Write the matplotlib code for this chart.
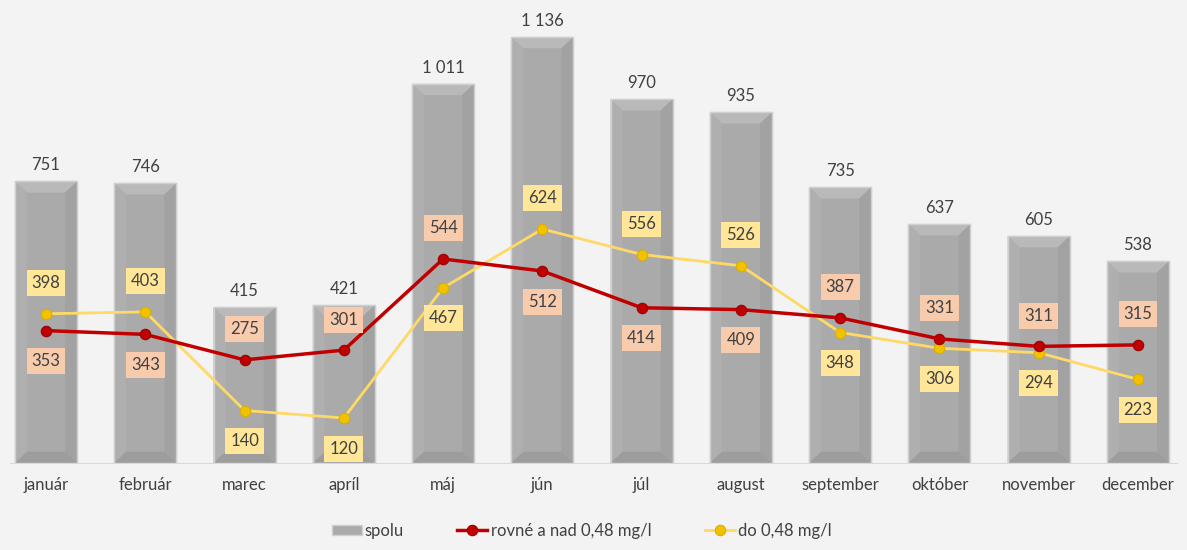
import matplotlib.pyplot as plt
from matplotlib.patches import Polygon
import numpy as np

plt.rcParams['font.family'] = ['Lato', 'DejaVu Sans']

# data
months = ['január', 'február', 'marec', 'apríl', 'máj', 'jún', 'júl',
          'august', 'september', 'október', 'november', 'december']
spolu = [751, 746, 415, 421, 1011, 1136, 970, 935, 735, 637, 605, 538]
nad = [353, 343, 275, 301, 544, 512, 414, 409, 387, 331, 311, 315]
do = [398, 403, 140, 120, 467, 624, 556, 526, 348, 306, 294, 223]

# label placement (+1 above, -1 below)
nad_pos = [-1, -1, 1, 1, 1, -1, -1, -1, 1, 1, 1, 1]
do_pos = [1, 1, -1, -1, -1, 1, 1, 1, -1, -1, -1, -1]

bg = '#f3f3f3'
txt = '#404040'

fig = plt.figure(figsize=(11.87, 5.5), dpi=100, facecolor=bg)
ax = fig.add_axes([10 / 1187, 1 - 463 / 550, 1167 / 1187, 450 / 550])
ax.set_facecolor(bg)

x = np.arange(len(months))
bars = ax.bar(x, spolu, width=0.625, color='#aaaaaa', edgecolor='#d0d0d0',
              linewidth=1, label='spolu', zorder=2)

# bevel effect on each bar
bx, by = 0.12, 30
for b in bars:
    x0, y0 = b.get_x(), b.get_y()
    x1, y1 = x0 + b.get_width(), y0 + b.get_height()
    faces = [
        ([(x0, y1), (x1, y1), (x1 - bx, y1 - by), (x0 + bx, y1 - by)], '#b9b9b9'),
        ([(x0, y0), (x0, y1), (x0 + bx, y1 - by), (x0 + bx, y0 + by)], '#afafaf'),
        ([(x1, y0), (x1, y1), (x1 - bx, y1 - by), (x1 - bx, y0 + by)], '#a2a2a2'),
        ([(x0, y0), (x1, y0), (x1 - bx, y0 + by), (x0 + bx, y0 + by)], '#9d9d9d'),
    ]
    for pts, c in faces:
        ax.add_patch(Polygon(pts, closed=True, facecolor=c, edgecolor='none', zorder=2.1))
    ax.add_patch(Polygon([(x0, y0), (x1, y0), (x1, y1), (x0, y1)], closed=True,
                         facecolor='none', edgecolor='#d0d0d0', lw=1, zorder=2.2))

labels_tot = [f'{v:,}'.replace(',', ' ') for v in spolu]
ax.bar_label(bars, labels=labels_tot, padding=6, fontsize=12, color=txt)

ax.plot(x, nad, color='#c00000', lw=2.5, marker='o', ms=7.5, mfc='#c00000',
        mec='#9a0000', mew=0.8, label='rovné a nad 0,48 mg/l', zorder=4)
ax.plot(x, do, color='#ffd966', lw=2, marker='o', ms=7.5, mfc='#f2c200',
        mec='#dcae00', mew=0.8, label='do 0,48 mg/l', zorder=3)

for xi, v, p in zip(x, nad, nad_pos):
    ax.annotate(str(v), (xi, v), xytext=(0, 22 * p), textcoords='offset points',
                ha='center', va='center', fontsize=12, color=txt, zorder=5,
                bbox=dict(boxstyle='square,pad=0.3', fc='#f8cbad', ec='none'))
for xi, v, p in zip(x, do, do_pos):
    ax.annotate(str(v), (xi, v), xytext=(0, 22 * p), textcoords='offset points',
                ha='center', va='center', fontsize=12, color=txt, zorder=5,
                bbox=dict(boxstyle='square,pad=0.3', fc='#ffe699', ec='none'))

ax.set_xlim(-0.3626, 11.393)
ax.set_ylim(0, 1200)
ax.set_xticks(x)
ax.set_xticklabels(months, fontsize=12, color=txt)
ax.tick_params(axis='x', length=0, pad=10)
ax.set_yticks([])
for s in ['top', 'right', 'left']:
    ax.spines[s].set_visible(False)
ax.spines['bottom'].set_color('#d9d9d9')

h, l = ax.get_legend_handles_labels()
order = [2, 0, 1]
fig.legend([h[i] for i in order], [l[i] for i in order], loc='center',
           bbox_to_anchor=(0.49, 0.035), ncol=3, frameon=False, fontsize=12,
           columnspacing=3.2, handlelength=1.8, handletextpad=0.2,
           handleheight=0.5, labelcolor=txt)

fig.savefig('out.png', dpi=100, facecolor=bg)
